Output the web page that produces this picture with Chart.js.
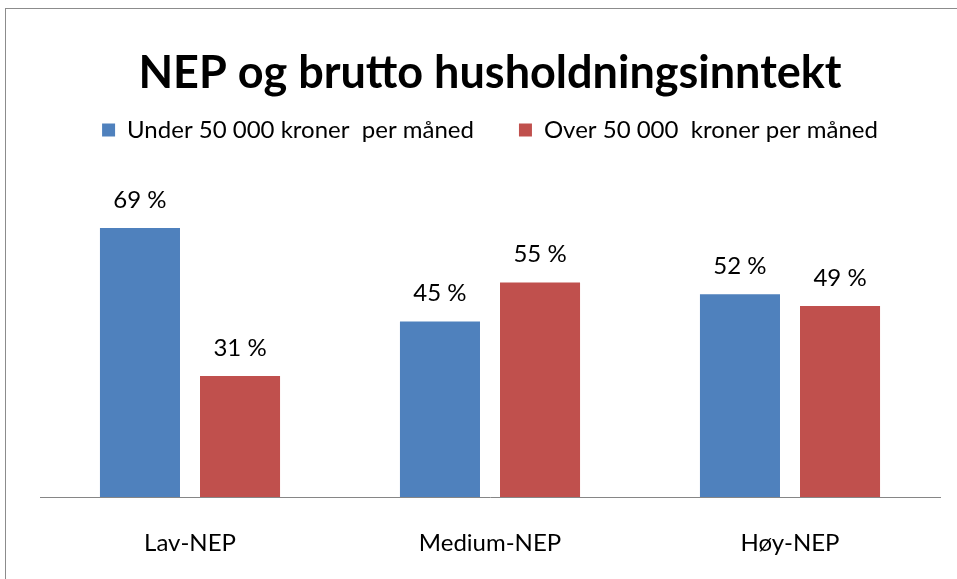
<!DOCTYPE html>
<html>
<head>
<meta charset="utf-8">
<script src="https://cdn.jsdelivr.net/npm/chart.js@4"></script>
<style>
  html, body { margin: 0; padding: 0; background: #fff; }
  #wrap { width: 957px; height: 579px; }
</style>
</head>
<body>
<div id="wrap"><canvas id="nep-chart"></canvas></div>
<script>
// NEP og brutto husholdningsinntekt
const categories = ['Lav-NEP', 'Medium-NEP', 'Høy-NEP'];
const seriesNames = ['Under 50 000 kroner  per måned', 'Over 50 000  kroner per måned'];
const under50k = [69, 45, 52];
const over50k = [31, 55, 49];

const FONT = 'Lato, "Open Sans", sans-serif';

// white background + thin frame like the original chart object
const framePlugin = {
    id: 'frame',
    beforeDraw(chart) {
        const c = chart.ctx;
        c.save();
        c.fillStyle = '#fff';
        c.fillRect(0, 0, chart.width, chart.height);
        c.strokeStyle = '#8c8c8c';
        c.lineWidth = 1;
        c.strokeRect(5.5, 8.5, chart.width + 20, chart.height + 20);
        c.restore();
    }
};

// extra space between legend and plot area
const legendGap = {
    id: 'legendGap',
    beforeInit(chart) {
        const origFit = chart.legend.fit;
        chart.legend.fit = function () {
            origFit.bind(chart.legend)();
            this.height += 33;
        };
    }
};

// "69 %" style labels above the bars
const valueLabels = {
    id: 'valueLabels',
    afterDatasetsDraw(chart) {
        const c = chart.ctx;
        c.save();
        c.font = '24px ' + FONT;
        c.fillStyle = '#000';
        c.textAlign = 'center';
        c.textBaseline = 'middle';
        chart.data.datasets.forEach((ds, i) => {
            chart.getDatasetMeta(i).data.forEach((bar, j) => {
                c.fillText(ds.data[j] + ' %', bar.x, bar.y - 28);
            });
        });
        c.restore();
    }
};

new Chart(document.getElementById('nep-chart'), {
    type: 'bar',
    data: {
        labels: categories,
        datasets: [
            { label: seriesNames[0], data: under50k, backgroundColor: '#4F81BD' },
            { label: seriesNames[1], data: over50k, backgroundColor: '#C0504D' }
        ]
    },
    options: {
        responsive: true,
        maintainAspectRatio: false,
        animation: false,
        categoryPercentage: 0.667,
        barPercentage: 0.8,
        layout: { padding: { left: 40, right: 17, top: 10, bottom: 0 } },
        plugins: {
            title: {
                display: true,
                text: 'NEP og brutto husholdningsinntekt',
                color: '#000',
                font: { family: FONT, size: 45, weight: 'bold' },
                padding: { top: 36, bottom: -27 }
            },
            legend: {
                display: true,
                labels: {
                    color: '#000',
                    font: { family: FONT, size: 24 },
                    boxWidth: 13,
                    boxHeight: 13,
                    padding: 45
                }
            },
            tooltip: { enabled: false }
        },
        scales: {
            x: {
                grid: { display: false, drawTicks: false },
                border: { display: true, color: '#868686', width: 1 },
                ticks: { color: '#000', font: { family: FONT, size: 24 }, padding: 32 },
                afterFit(scale) { scale.height = 82; }
            },
            y: {
                display: false,
                min: 0,
                max: 80
            }
        }
    },
    plugins: [framePlugin, legendGap, valueLabels]
});
</script>
</body>
</html>
